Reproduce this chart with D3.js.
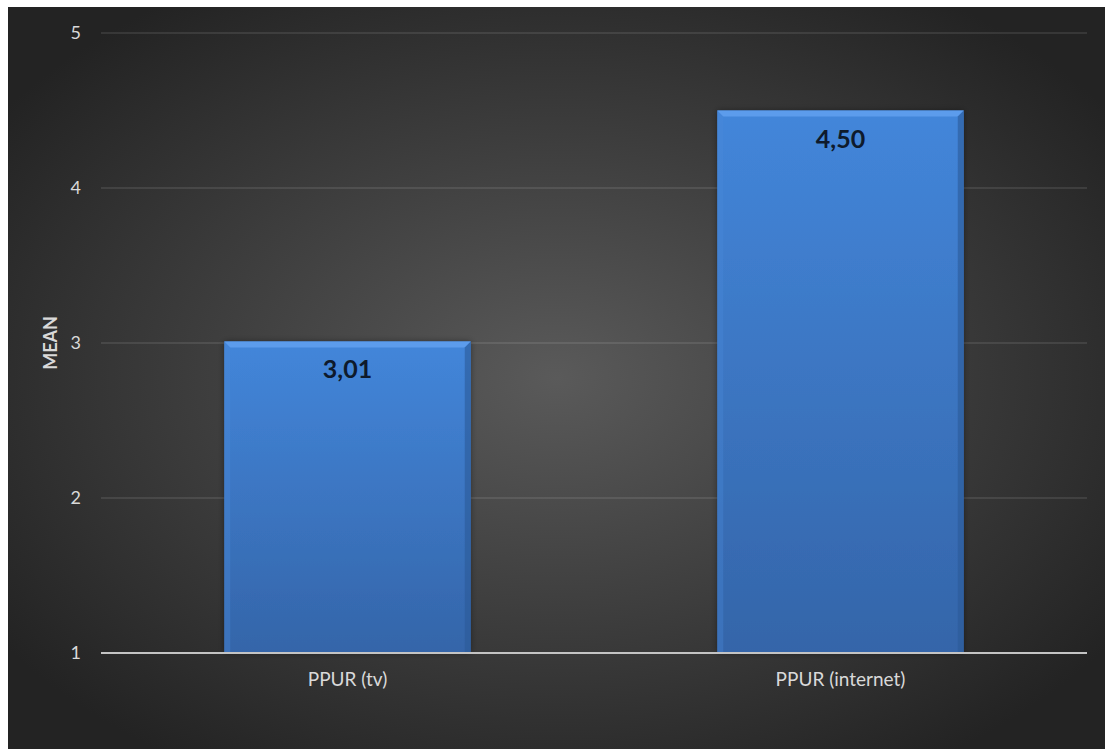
<!DOCTYPE html>
<html>
<head>
<meta charset="utf-8">
<script src="https://cdn.jsdelivr.net/npm/d3@7"></script>
<style>
  html, body { margin: 0; padding: 0; background: #ffffff; }
  svg { display: block; }
</style>
</head>
<body>
<svg id="chart" width="1105" height="749"></svg>
<script>
// Mean PPUR scores by channel
const categories = ["PPUR (tv)", "PPUR (internet)"];
const means = [3.01, 4.50];
const yTicks = [1, 2, 3, 4, 5];
const valueLabels = ["3,01", "4,50"];
const yTitle = "MEAN";

const W = 1105, H = 749;
const font = "Lato, 'Open Sans', sans-serif";
const svg = d3.select("#chart");
const defs = svg.append("defs");

// Dark radial backdrop
const bg = defs.append("radialGradient").attr("id", "bgGrad")
  .attr("cx", "50%").attr("cy", "50%").attr("r", "62%");
bg.append("stop").attr("offset", "0%").attr("stop-color", "#5a5a5a");
bg.append("stop").attr("offset", "100%").attr("stop-color", "#232323");

const barGrad = defs.append("linearGradient").attr("id", "barGrad")
  .attr("x1", 0).attr("y1", 0).attr("x2", 0).attr("y2", 1);
barGrad.append("stop").attr("offset", "0%").attr("stop-color", "#4386da");
barGrad.append("stop").attr("offset", "100%").attr("stop-color", "#3465a9");

const shadow = defs.append("filter").attr("id", "barShadow")
  .attr("x", "-10%").attr("y", "-10%").attr("width", "120%").attr("height", "120%");
shadow.append("feDropShadow").attr("dx", 0).attr("dy", 0).attr("stdDeviation", 3)
  .attr("flood-color", "#000").attr("flood-opacity", 0.4);

svg.append("rect").attr("x", 8).attr("y", 7).attr("width", W - 8).attr("height", H - 7)
  .attr("fill", "url(#bgGrad)");

const plot = { left: 101, right: 1087, top: 33, bottom: 653 };

const x = d3.scaleBand().domain(categories)
  .range([plot.left, plot.right]).paddingInner(0.5).paddingOuter(0.25);
const y = d3.scaleLinear().domain([1, 5]).range([plot.bottom, plot.top]);

// Horizontal gridlines
svg.append("g").selectAll("line").data(yTicks.filter(t => t !== 1)).join("line")
  .attr("x1", plot.left).attr("x2", plot.right)
  .attr("y1", d => y(d)).attr("y2", d => y(d))
  .attr("stroke", "rgba(255,255,255,0.13)").attr("stroke-width", 1.5);

// Y axis labels
const yAxis = d3.axisLeft(y).tickValues(yTicks).tickSize(0).tickPadding(20)
  .tickFormat(d3.format("d"));
const yg = svg.append("g").attr("transform", `translate(${plot.left},0)`).call(yAxis);
yg.select(".domain").remove();
yg.selectAll("text").attr("fill", "#d9d9d9").attr("font-size", 18)
  .attr("font-family", font);

// Bars with a bevelled edge
const bev = 6;
const bars = svg.append("g").selectAll("g").data(categories).join("g");
bars.each(function (c, i) {
  const g = d3.select(this);
  const x0 = x(c), x1 = x(c) + x.bandwidth();
  const y0 = y(means[i]), y1 = y(1);
  g.append("rect").attr("x", x0).attr("y", y0).attr("width", x1 - x0).attr("height", y1 - y0)
    .attr("fill", "url(#barGrad)").attr("filter", "url(#barShadow)");
  const poly = pts => g.append("polygon").attr("points", pts.map(p => p.join(",")).join(" "));
  poly([[x0, y0], [x1, y0], [x1 - bev, y0 + bev], [x0 + bev, y0 + bev]])
    .attr("fill", "#5c9cec");
  poly([[x0, y0], [x0 + bev, y0 + bev], [x0 + bev, y1], [x0, y1]])
    .attr("fill", "#4a8ad9").attr("opacity", 0.35);
  poly([[x1, y0], [x1 - bev, y0 + bev], [x1 - bev, y1], [x1, y1]])
    .attr("fill", "#2c5a98").attr("opacity", 0.6);
});

// Baseline
svg.append("line").attr("x1", plot.left).attr("x2", plot.right)
  .attr("y1", y(1)).attr("y2", y(1))
  .attr("stroke", "#c4c4c4").attr("stroke-width", 2);

// Value labels
svg.append("g").selectAll("text").data(categories).join("text")
  .attr("x", c => x(c) + x.bandwidth() / 2)
  .attr("y", (c, i) => y(means[i]) + 37)
  .attr("text-anchor", "middle")
  .attr("font-family", font).attr("font-weight", "bold").attr("font-size", 25)
  .attr("fill", "#0e1a2c")
  .text((c, i) => valueLabels[i]);

// Category labels
const xAxis = d3.axisBottom(x).tickSize(0).tickPadding(20);
const xg = svg.append("g").attr("transform", `translate(0,${plot.bottom})`).call(xAxis);
xg.select(".domain").remove();
xg.selectAll("text").attr("fill", "#d9d9d9").attr("font-size", 19)
  .attr("font-family", font);

// Y axis title
svg.append("text")
  .attr("transform", `translate(57,${(plot.top + plot.bottom) / 2}) rotate(-90)`)
  .attr("text-anchor", "middle")
  .attr("font-family", font).attr("font-weight", "bold").attr("font-size", 18)
  .attr("fill", "#d9d9d9")
  .text(yTitle);
</script>
</body>
</html>
